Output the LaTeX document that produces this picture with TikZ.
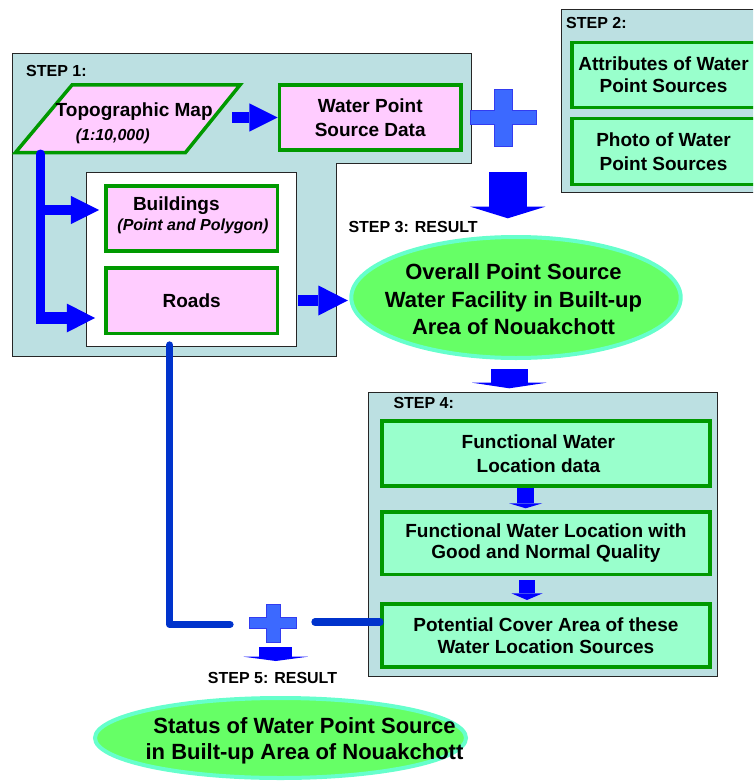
\documentclass[tikz,border=0pt]{standalone}
\usepackage{fontspec}
\setmainfont{Liberation Sans}
\usetikzlibrary{shapes.geometric,arrows.meta}

\definecolor{panel}{RGB}{188,224,226}
\definecolor{pinkfill}{RGB}{255,204,255}
\definecolor{boxgreen}{RGB}{0,153,0}
\definecolor{mint}{RGB}{153,255,204}
\definecolor{limefill}{RGB}{102,255,102}
\definecolor{aqua}{RGB}{102,255,204}
\definecolor{arrowblue}{RGB}{0,0,255}
\definecolor{plusblue}{RGB}{60,105,255}
\definecolor{plusedge}{RGB}{50,60,240}
\definecolor{linkblue}{RGB}{0,51,204}

\newcommand\fsz[2]{\fontsize{#1}{#2}\selectfont\bfseries}

\tikzset{
  panelbox/.style={draw=black!85, line width=1pt, fill=panel},
  pinkbox/.style={draw=boxgreen, line width=3.5pt, fill=pinkfill, inner sep=0pt, align=center},
  mintbox/.style={draw=boxgreen, line width=3.5pt, fill=mint, inner sep=0pt, align=center},
  result/.style={ellipse, draw=aqua, line width=4pt, fill=limefill, inner sep=0pt},
  steplabel/.style={anchor=west, inner sep=0pt, font=\fsz{16}{19}},
  barrow/.style n args={3}{draw=arrowblue, line width=#1, line cap=butt,
    -{Triangle[length=#2, width=#3, line width=0pt]}},
  link/.style={draw=linkblue, line width=7.3pt, line cap=round, line join=round},
  plusshape/.style={fill=plusblue, draw=plusedge, line width=1pt},
}

\begin{document}
\begin{tikzpicture}[x=1pt,y=-1pt]
\useasboundingbox (0,0) rectangle (753,781);
\clip (0,0) rectangle (753,781);

% ---- panels ----
\draw[panelbox] (12.7,53.3) -- (471,53.3) -- (471,163.3) -- (336.7,163.3)
  -- (336.7,356) -- (12.7,356) -- cycle;
\draw[black!85, line width=1pt, fill=white] (86.7,172.7) rectangle (296.7,346.7);
\draw[panelbox] (561.7,10) rectangle (770,192.7);
\draw[panelbox] (368.3,392.7) rectangle (717.3,676);

\node[steplabel] (l1) at (26,70.7) {STEP 1:};
\node[steplabel] (l2) at (566,23.3) {STEP 2:};
\node[steplabel] (l3) at (348.3,226.7) {STEP 3: RESULT};
\node[steplabel] (l4) at (393.3,403.3) {STEP 4:};
\node[steplabel, anchor=center] (l5) at (272.5,678.3) {STEP 5: RESULT};

% ---- step 1 ----
\draw[draw=boxgreen, line width=3.5pt, fill=pinkfill]
  (72,85) -- (240,85) -- (185.5,152.5) -- (15.5,152.5) -- cycle;
\node[font=\fsz{19}{23}] (topo) at (134.2,111.7) {Topographic Map};
\node[font=\fsz{16}{19}\itshape] (scale) at (112.7,136) {(1:10,000)};

\node[pinkbox, minimum width=181.5pt, minimum height=65pt, font=\fsz{19}{24}]
  (wps) at (370.2,117.5) {Water Point\\Source Data};
\node[pinkbox, minimum width=171.2pt, minimum height=64.9pt] (bld) at (191.7,218.5) {};
\node[font=\fsz{19}{23}] (bldtxt) at (176.3,205.7) {Buildings};
\node[font=\fsz{16}{19}\itshape] (bldsub) at (193,226.7) {(Point and Polygon)};
\node[pinkbox, minimum width=171.2pt, minimum height=65.5pt, font=\fsz{19}{23}]
  (rds) at (191.7,300.5) {Roads};

% ---- step 2 ----
\node[mintbox, minimum width=183.5pt, minimum height=64.8pt, font=\fsz{19}{22}]
  (attr) at (663.5,74.9) {Attributes of Water\\Point Sources};
\node[mintbox, minimum width=183.5pt, minimum height=65.8pt, font=\fsz{19}{24}]
  (photo) at (663.5,151.4) {Photo of Water\\Point Sources};

% ---- step 3 result ----
\node[result, minimum width=329.4pt, minimum height=121pt] (res3) at (516,297.5) {};
\node[font=\fsz{22}{27.5}, align=center] (res3txt) at (513.5,299.2)
  {Overall Point Source\\Water Facility in Built-up\\Area of Nouakchott};

% ---- step 4 ----
\node[mintbox, minimum width=328.2pt, minimum height=65.2pt] (f1) at (545.9,453.4) {};
\node[font=\fsz{19}{24.3}, align=center] (f1txt) at ([xshift=-7.5pt]f1.center)
  {Functional Water\\Location data};
\node[mintbox, minimum width=328.2pt, minimum height=62.5pt, font=\fsz{19}{21}]
  (f2) at (545.9,543) {Functional Water Location with\\Good and Normal Quality};
\node[mintbox, minimum width=328.2pt, minimum height=62.7pt, font=\fsz{19}{22}]
  (f3) at (545.9,635.4) {Potential Cover Area of these\\Water Location Sources};

% ---- step 5 result ----
\node[result, minimum width=371pt, minimum height=80pt] (res5) at (280.5,738) {};
\node[font=\fsz{22}{25.7}, align=center] (res5txt) at (304.5,741)
  {Status of Water Point Source\\in Built-up Area of Nouakchott};

% ---- step 1 arrows ----
\coordinate (tA) at (232.3,117.5);
\draw[barrow={10.6pt}{28.4pt}{28.4pt}] (tA) -- (tA -| wps.west);
\coordinate (trunk) at (40.5,154);
\coordinate (bA) at (40.5,210);
\coordinate (rA) at (36,318);
\draw[arrowblue, line width=9pt, line cap=round] (trunk) -- (40.5,318);
\draw[barrow={10pt}{28.3pt}{28.3pt}] (bA) -- ([xshift=-5.3pt]bA -| bld.west);
\draw[barrow={11.6pt}{28.3pt}{29pt}] (rA) -- ([xshift=-9.3pt]rA -| rds.west);
\coordinate (eA) at ([xshift=18.7pt]rds.east);
\draw[barrow={11.7pt}{29.4pt}{30pt}] (eA) -- ([xshift=-1.5pt]eA -| res3.west);

% ---- combining steps 1 and 2 ----
\draw[plusshape] (494.3,90) -- (512.3,90) -- (512.3,110.7) -- (536,110.7)
  -- (536,124.3) -- (512.3,124.3) -- (512.3,146) -- (494.3,146) -- (494.3,124.3)
  -- (470,124.3) -- (470,110.7) -- (494.3,110.7) -- cycle;
\coordinate (s3a) at (507.8,172);
\coordinate (s3b) at (507.8,218.3);
\draw[barrow={37.7pt}{11.6pt}{75pt}] (s3a) -- (s3b);

% ---- result to step 4 ----
\coordinate (s4a) at (509.3,369.3);
\coordinate (s4b) at (509.3,388.3);
\draw[barrow={36.7pt}{5.6pt}{74.3pt}] (s4a) -- (s4b);
\draw[barrow={16.7pt}{5pt}{33.3pt}] ([xshift=-20.2pt]f1.south) -- ([xshift=-20.2pt,yshift=1.7pt]f2.north);
\draw[barrow={16pt}{6.7pt}{31.4pt}] ([xshift=-18.9pt,yshift=-4pt]f2.south) -- ([xshift=-18.9pt,yshift=2.3pt]f3.north);

% ---- step 5 links ----
\coordinate (lk1) at (169.7,345);
\coordinate (lk2) at (230,624.3);
\draw[link] (lk1) |- (lk2);
\coordinate (lk3) at (315,622);
\draw[link] (lk3) -- (lk3 -| f3.west);
\draw[plusshape] (266.2,604.5) -- (280.3,604.5) -- (280.3,617) -- (296.5,617)
  -- (296.5,628.3) -- (280.3,628.3) -- (280.3,642.3) -- (266.2,642.3) -- (266.2,628.3)
  -- (249.3,628.3) -- (249.3,617) -- (266.2,617) -- cycle;
\coordinate (s5a) at (275.7,647.3);
\coordinate (s5b) at (275.7,661);
\draw[barrow={33.3pt}{4.3pt}{64.4pt}] (s5a) -- (s5b);

\end{tikzpicture}
\end{document}
